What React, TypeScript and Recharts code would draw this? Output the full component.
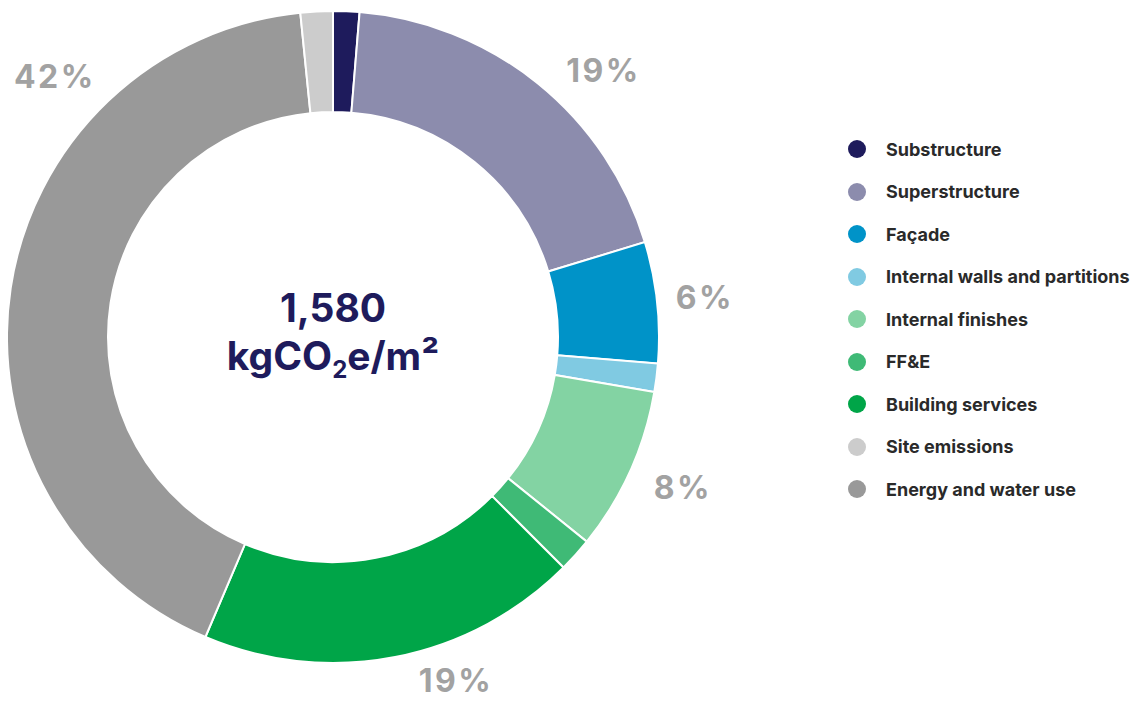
import { PieChart, Pie, Cell, Legend } from "recharts";

// ring order, clockwise from 12 o'clock
const categories = [
  "Substructure",
  "Superstructure",
  "Façade",
  "Internal walls and partitions",
  "Internal finishes",
  "FF&E",
  "Building services",
  "Energy and water use",
  "Site emissions",
];
const shares = [1.3, 19, 6, 1.4, 8.1, 1.7, 18.9, 42, 1.6];
const shownLabels = ["", "19%", "6%", "", "8%", "", "19%", "42%", ""];
const colors = [
  "#1e1b5c",
  "#8c8cad",
  "#0093c8",
  "#80cae2",
  "#83d3a3",
  "#3fba76",
  "#00a548",
  "#999999",
  "#cccccc",
];
const legendOrder = [
  "Substructure",
  "Superstructure",
  "Façade",
  "Internal walls and partitions",
  "Internal finishes",
  "FF&E",
  "Building services",
  "Site emissions",
  "Energy and water use",
];

const FONT = "Inter, 'Liberation Sans', sans-serif";

// where the outside % labels sit: degrees clockwise from 12 o'clock, radius px
const labelSpots: Record<string, { deg: number; r: number }> = {
  Superstructure: { deg: 45.4, r: 380 },
  "Façade": { deg: 84, r: 374 },
  "Internal finishes": { deg: 113.3, r: 381 },
  "Building services": { deg: 160.3, r: 365 },
  "Energy and water use": { deg: 313.1, r: 381 },
};

const data = categories.map((name, i) => ({
  name,
  value: shares[i],
  label: shownLabels[i],
}));

const RADIAN = Math.PI / 180;

function renderLabel(props: any) {
  const { cx, cy, midAngle, payload, name } = props;
  const text = payload?.label;
  if (!text) return null;
  const spot = labelSpots[payload?.name ?? name];
  const deg = spot ? spot.deg : 90 - midAngle;
  const r = spot ? spot.r : 378;
  const x = cx + r * Math.sin(deg * RADIAN);
  const y = cy - r * Math.cos(deg * RADIAN);
  return (
    <text
      x={x}
      y={y}
      fill="#a2a2a2"
      fontFamily={FONT}
      fontWeight={700}
      fontSize={32}
      letterSpacing={2.5}
      textAnchor="middle"
      dominantBaseline="central"
    >
      {text}
    </text>
  );
}

function LegendList() {
  return (
    <div style={{ fontFamily: FONT }}>
      {legendOrder.map((name) => {
        const idx = categories.indexOf(name);
        return (
          <div
            key={name}
            style={{ display: "flex", alignItems: "center", height: 42.5 }}
          >
            <span
              style={{
                width: 18,
                height: 18,
                borderRadius: 9,
                background: colors[idx],
                display: "inline-block",
                marginRight: 20,
              }}
            />
            <span style={{ fontSize: 18, fontWeight: 700, color: "#2a2a2a" }}>
              {name}
            </span>
          </div>
        );
      })}
    </div>
  );
}

export default function App() {
  return (
    <div style={{ margin: -8, position: "relative", width: 1139, height: 702, background: "#fff" }}>
      <PieChart width={1139} height={702} margin={{ top: 0, right: 0, bottom: 0, left: 0 }}>
        <Pie
          data={data}
          dataKey="value"
          nameKey="name"
          cx={333}
          cy={337}
          innerRadius={225}
          outerRadius={326}
          startAngle={90}
          endAngle={-270}
          stroke="#ffffff"
          strokeWidth={2}
          label={renderLabel}
          labelLine={false}
          isAnimationActive={false}
        >
          {data.map((d, i) => (
            <Cell key={d.name} fill={colors[i]} />
          ))}
        </Pie>
        <Legend
          content={<LegendList />}
          wrapperStyle={{ left: 848, top: 128, width: 291 }}
        />
      </PieChart>
      <div
        style={{
          position: "absolute",
          left: 133,
          width: 400,
          top: 284,
          textAlign: "center",
          fontFamily: FONT,
          fontWeight: 700,
          color: "#1e1b5c",
          fontSize: 39,
          lineHeight: "48px",
        }}
      >
        <div>1,580</div>
        <div>
          kgCO<sub style={{ fontSize: 24, verticalAlign: -8, lineHeight: 0 }}>2</sub>e/m²
        </div>
      </div>
    </div>
  );
}
